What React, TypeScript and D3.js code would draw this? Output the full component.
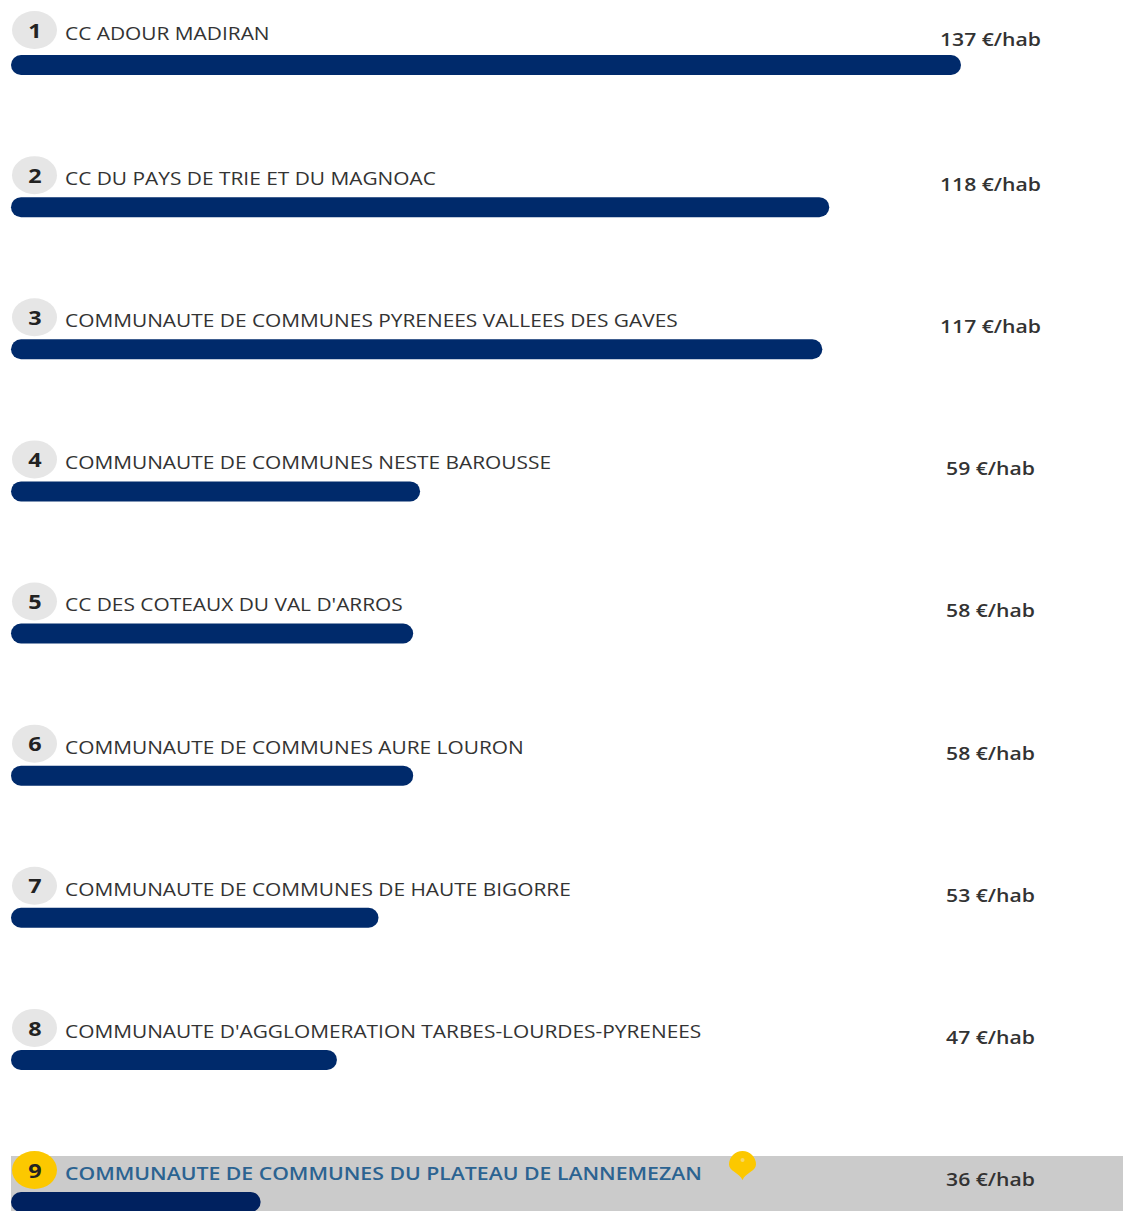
import React from "react";
import * as d3 from "d3";

// Ranking of communities by amount per inhabitant
const ranks = [1, 2, 3, 4, 5, 6, 7, 8, 9];
const names = [
  "CC ADOUR MADIRAN",
  "CC DU PAYS DE TRIE ET DU MAGNOAC",
  "COMMUNAUTE DE COMMUNES PYRENEES VALLEES DES GAVES",
  "COMMUNAUTE DE COMMUNES NESTE BAROUSSE",
  "CC DES COTEAUX DU VAL D'ARROS",
  "COMMUNAUTE DE COMMUNES AURE LOURON",
  "COMMUNAUTE DE COMMUNES DE HAUTE BIGORRE",
  "COMMUNAUTE D'AGGLOMERATION TARBES-LOURDES-PYRENEES",
  "COMMUNAUTE DE COMMUNES DU PLATEAU DE LANNEMEZAN",
];
const amounts = [137, 118, 117, 59, 58, 58, 53, 47, 36];
const selectedRank = 9;

const WIDTH = 1123;
const HEIGHT = 1211;
const BAR_H = 20;
const FONT = "'Open Sans', 'Noto Sans', sans-serif";

const x = d3.scaleLinear().domain([0, 137]).range([11, 961]);
const y = d3.scalePoint<number>().domain(ranks).range([65, 1202]);

export default function App() {
  return (
    <svg
      width={WIDTH}
      height={HEIGHT}
      viewBox={`0 0 ${WIDTH} ${HEIGHT}`}
      style={{ position: "absolute", left: 0, top: 0, background: "#fff" }}
    >
      {/* highlighted row band */}
      <rect x={11} y={y(selectedRank)! - 46} width={WIDTH - 11} height={HEIGHT - y(selectedRank)! + 46} fill="#cbcbcb" />
      {ranks.map((r, i) => {
        const cy = y(r)!;
        const selected = r === selectedRank;
        // the first row's heading sits a little higher above its bar
        const head = cy - (i === 0 ? 3 : 0);
        return (
          <g key={r}>
            <ellipse cx={34.5} cy={head - 32} rx={22.5} ry={19} fill={selected ? "#fcc800" : "#e6e6e6"} />
            <text
              transform={`translate(35, ${head - 31.5}) scale(1.17, 1)`}
              dy="0.36em"
              textAnchor="middle"
              fontFamily={FONT}
              fontWeight={700}
              fontSize={20}
              fill="#222"
            >
              {r}
            </text>
            <text
              transform={`translate(65, ${head - 28.5}) scale(${selected ? 1.18 : 1.16}, 1)`}
              dy="0.36em"
              fontFamily={FONT}
              fontWeight={selected ? 600 : 400}
              fontSize={18}
              fill={selected ? "#2b6391" : "#333"}
            >
              {names[i]}
            </text>
            <text
              transform={`translate(990.5, ${head - 22.5}) scale(1.175, 1)`}
              dy="0.36em"
              textAnchor="middle"
              fontFamily={FONT}
              fontWeight={600}
              fontSize={18}
              fill="#333"
            >
              {`${amounts[i]} €/hab`}
            </text>
            <rect
              x={x(0)}
              y={cy - BAR_H / 2}
              width={x(amounts[i]) - x(0)}
              height={BAR_H}
              rx={10}
              fill={selected ? "#00215f" : "#002a6b"}
            />
            {selected && (
              <g transform={`translate(742.5, ${cy - 22})`}>
                <path
                  d="M0 0 C-3 -7 -13.5 -9 -13.5 -15.5 A13.5 13.5 0 1 1 13.5 -15.5 C13.5 -9 3 -7 0 0 Z"
                  fill="#fcc800"
                />
                <circle cx={0} cy={-20} r={2} fill="#f5d76a" />
              </g>
            )}
          </g>
        );
      })}
    </svg>
  );
}
